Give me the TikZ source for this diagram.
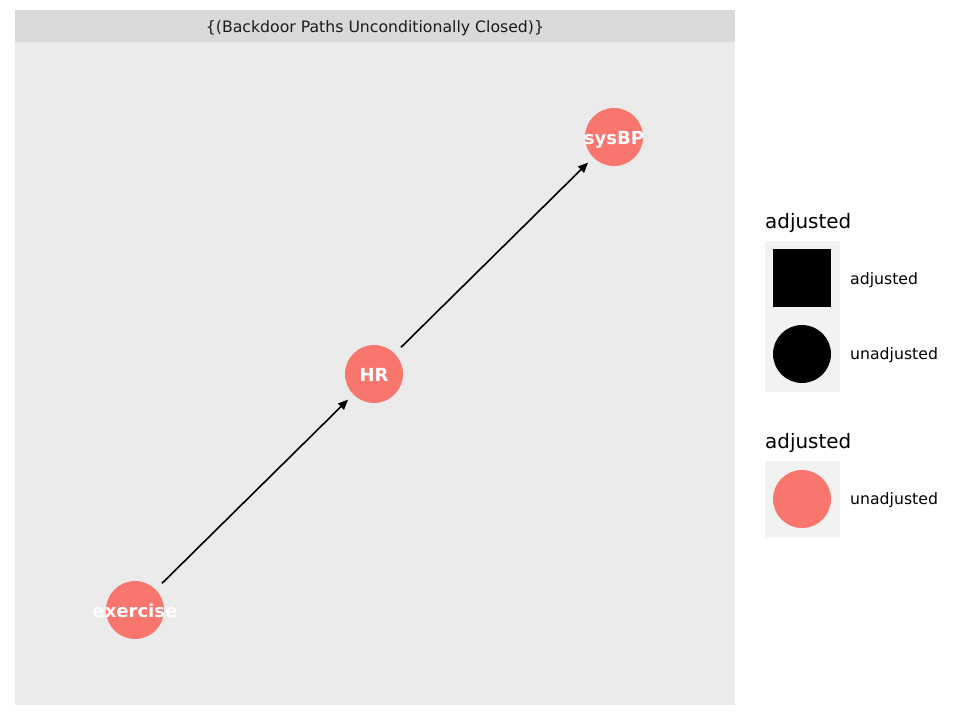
\documentclass[tikz,border=0pt]{standalone}
\usepackage{fontspec}
\setmainfont{DejaVu Sans}
\usetikzlibrary{arrows.meta}
\definecolor{panelbg}{HTML}{EBEBEB}
\definecolor{stripbg}{HTML}{D9D9D9}
\definecolor{keybg}{HTML}{F2F2F2}
\definecolor{nodered}{HTML}{F8766D}
\definecolor{striptext}{HTML}{1A1A1A}
\begin{document}
\begin{tikzpicture}[x=1pt,y=-1pt,
  dagnode/.style={circle,fill=nodered,minimum size=58pt,inner sep=0pt,outer sep=7.5pt,
    label={[text=white,inner sep=0pt,yshift=-2.5pt,
      font=\fontsize{18}{20}\selectfont\bfseries]center:\vphantom{Hy}#1}},
  edge/.style={line width=1.6pt,-{Triangle[length=10pt,width=8.5pt]},shorten <=1.5pt},
  legtitle/.style={anchor=west,font=\fontsize{19.9}{22}\selectfont,inner sep=0pt},
  leglabel/.style={anchor=west,font=\fontsize{15.7}{18}\selectfont,inner sep=0pt}]
  \useasboundingbox (0,0) rectangle (960,720);
  % panel and facet strip
  \fill[panelbg] (15,42) rectangle (735,705);
  \fill[stripbg] (15,10) rectangle (735,42);
  \node[text=striptext,font=\fontsize{15.7}{18}\selectfont,inner sep=0pt,anchor=base] (strip) at (375,32.3)
    {\{(Backdoor Paths Unconditionally Closed)\}};
  % DAG
  \node[dagnode=exercise] (exercise) at (135,610) {};
  \node[dagnode=HR] (HR) at (374,374) {};
  \node[dagnode=sysBP] (sysBP) at (614,137) {};
  \draw[edge] (exercise) -- (HR);
  \draw[edge] (HR) -- (sysBP);
  % legend: shape
  \node[legtitle] (lt1) at (765,223.5) {adjusted};
  \fill[keybg] (765,241) rectangle (840,392);
  \fill[black] (773,249) rectangle (831,307);
  \fill[black] (802,354) circle (29);
  \node[leglabel] (l1a) at (850,280) {adjusted};
  \node[leglabel] (l1b) at (850,355.5) {unadjusted};
  % legend: colour
  \node[legtitle] (lt2) at (765,443.5) {adjusted};
  \fill[keybg] (765,461) rectangle (840,537);
  \fill[nodered] (802,499) circle (29);
  \node[leglabel] (l2a) at (850,500.5) {unadjusted};
\end{tikzpicture}
\end{document}
